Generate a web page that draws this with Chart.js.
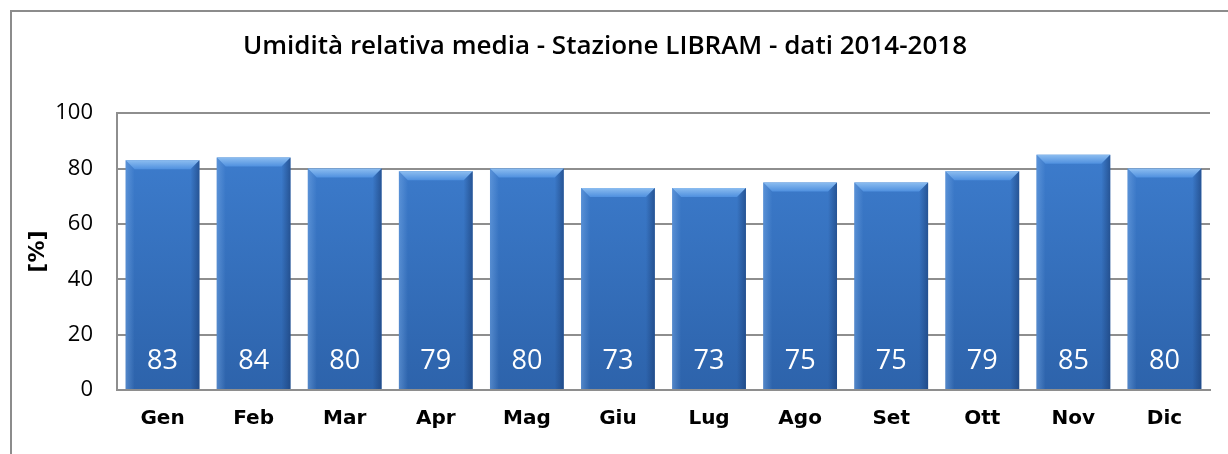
<!DOCTYPE html>
<html>
<head>
<meta charset="utf-8">
<script src="https://cdn.jsdelivr.net/npm/chart.js@4/dist/chart.umd.min.js"></script>
<style>
  html, body { margin: 0; padding: 0; background: #fff; }
</style>
</head>
<body>
<canvas id="c" width="1228" height="454"></canvas>
<script>
const months = ["Gen", "Feb", "Mar", "Apr", "Mag", "Giu", "Lug", "Ago", "Set", "Ott", "Nov", "Dic"];
const humidity = [83, 84, 80, 79, 80, 73, 73, 75, 75, 79, 85, 80];
const yTicks = [0, 20, 40, 60, 80, 100];

const GRID = "#8e8e8e";

// outer frame (only left and top edges are visible in the picture)
const framePlugin = {
  id: "frame",
  beforeDraw(chart) {
    const ctx = chart.ctx;
    ctx.save();
    ctx.strokeStyle = "#8c8c8c";
    ctx.lineWidth = 2;
    ctx.beginPath();
    ctx.moveTo(11, chart.height);
    ctx.lineTo(11, 11);
    ctx.lineTo(chart.width, 11);
    ctx.stroke();
    ctx.restore();
  }
};

// bevel highlight + value labels on each bar
const bevelPlugin = {
  id: "bevel",
  afterDatasetsDraw(chart) {
    const ctx = chart.ctx;
    const meta = chart.getDatasetMeta(0);
    ctx.save();
    meta.data.forEach((bar, i) => {
      const l = bar.x - bar.width / 2, r = bar.x + bar.width / 2;
      const t = bar.y, b = bar.base, bv = 9;
      // top face
      let g = ctx.createLinearGradient(0, t, 0, t + bv);
      g.addColorStop(0, "#8cbdf0");
      g.addColorStop(1, "#4f90df");
      ctx.fillStyle = g;
      ctx.beginPath();
      ctx.moveTo(l, t); ctx.lineTo(r, t); ctx.lineTo(r - bv, t + bv); ctx.lineTo(l + bv, t + bv);
      ctx.closePath(); ctx.fill();
      // left face
      g = ctx.createLinearGradient(l, 0, l + bv, 0);
      g.addColorStop(0, "rgba(120,170,230,0.5)");
      g.addColorStop(1, "rgba(120,170,230,0)");
      ctx.fillStyle = g;
      ctx.beginPath();
      ctx.moveTo(l, t); ctx.lineTo(l + bv, t + bv); ctx.lineTo(l + bv, b); ctx.lineTo(l, b);
      ctx.closePath(); ctx.fill();
      // right face
      g = ctx.createLinearGradient(r - bv, 0, r, 0);
      g.addColorStop(0, "rgba(25,60,115,0)");
      g.addColorStop(1, "rgba(25,60,115,0.6)");
      ctx.fillStyle = g;
      ctx.beginPath();
      ctx.moveTo(r, t); ctx.lineTo(r - bv, t + bv); ctx.lineTo(r - bv, b); ctx.lineTo(r, b);
      ctx.closePath(); ctx.fill();

      ctx.fillStyle = "#ffffff";
      ctx.font = "27px 'Open Sans'";
      ctx.textAlign = "center";
      ctx.textBaseline = "middle";
      ctx.fillText(String(humidity[i]), bar.x, b - 28);
    });
    ctx.restore();
  }
};

new Chart(document.getElementById("c"), {
  type: "bar",
  data: {
    labels: months,
    datasets: [{
      data: humidity,
      backgroundColor(c) {
        const area = c.chart.chartArea;
        if (!area) return "#3b78c4";
        const g = c.chart.ctx.createLinearGradient(0, area.top, 0, area.bottom);
        g.addColorStop(0, "#3f80d2");
        g.addColorStop(1, "#2d63ab");
        return g;
      },
      borderWidth: 0,
      barPercentage: 0.81,
      categoryPercentage: 1
    }]
  },
  options: {
    responsive: false,
    animation: false,
    devicePixelRatio: 1,
    layout: { padding: { left: 0, right: 18, top: 0, bottom: 0 } },
    plugins: {
      legend: { display: false },
      tooltip: { enabled: false },
      title: {
        display: true,
        text: "Umidità relativa media - Stazione LIBRAM - dati 2014-2018",
        color: "#000",
        font: { family: "'Open Sans'", size: 26, weight: "600" },
        padding: { top: 31, bottom: 51 }
      }
    },
    scales: {
      x: {
        grid: { display: false, drawTicks: false },
        border: { color: GRID, width: 2 },
        ticks: {
          color: "#000",
          padding: 17,
          maxRotation: 0,
          font: { family: "'DejaVu Sans'", size: 20, weight: "bold" }
        },
        afterFit(s) { s.height = 64; }
      },
      y: {
        min: 0,
        max: 100,
        afterBuildTicks(s) { s.ticks = yTicks.map(v => ({ value: v })); },
        grid: { color: GRID, lineWidth: 2, drawTicks: false },
        border: { color: GRID, width: 2 },
        ticks: {
          color: "#000",
          padding: 24,
          font: { family: "'Open Sans'", size: 22 }
        },
        title: {
          display: true,
          text: "[%]",
          color: "#000",
          font: { family: "'DejaVu Sans'", size: 22, weight: "bold" },
          padding: { top: 25, bottom: 0 }
        },
        afterFit(s) { s.width = 117; }
      }
    }
  },
  plugins: [framePlugin, bevelPlugin]
});
</script>
</body>
</html>
